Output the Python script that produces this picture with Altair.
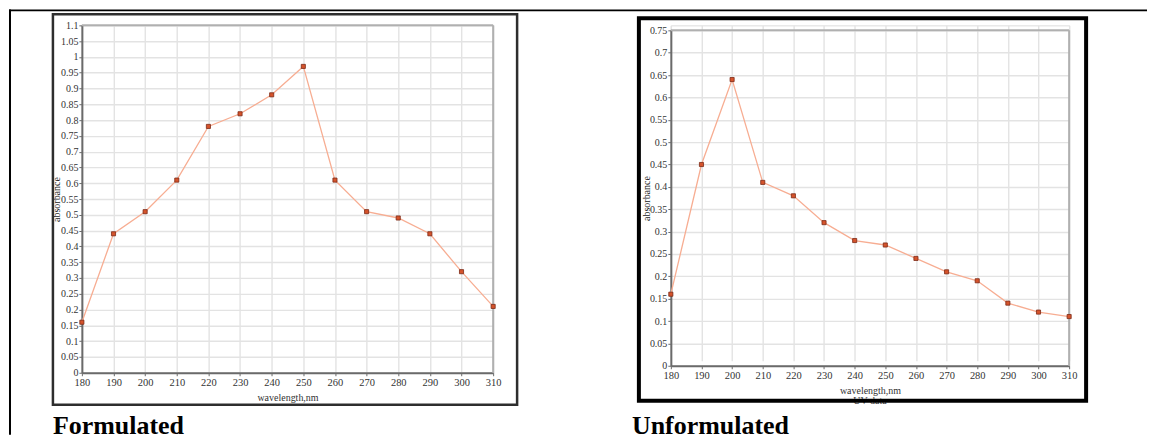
import altair as alt
import pandas as pd

# ---- data ----
wavelength = [180, 190, 200, 210, 220, 230, 240, 250, 260, 270, 280, 290, 300, 310]
formulated = [0.16, 0.44, 0.51, 0.61, 0.78, 0.82, 0.88, 0.97, 0.61, 0.51, 0.49, 0.44, 0.32, 0.21]
unformulated = [0.16, 0.45, 0.64, 0.41, 0.38, 0.32, 0.28, 0.27, 0.24, 0.21, 0.19, 0.14, 0.12, 0.11]

x_ticks = [180, 190, 200, 210, 220, 230, 240, 250, 260, 270, 280, 290, 300, 310]
y_ticks_left = [0, 0.05, 0.1, 0.15, 0.2, 0.25, 0.3, 0.35, 0.4, 0.45, 0.5, 0.55,
                0.6, 0.65, 0.7, 0.75, 0.8, 0.85, 0.9, 0.95, 1.0, 1.05, 1.1]
y_ticks_right = [0, 0.05, 0.1, 0.15, 0.2, 0.25, 0.3, 0.35, 0.4, 0.45, 0.5, 0.55,
                 0.6, 0.65, 0.7, 0.75]

captions = ["Formulated", "Unformulated"]
x_title = "wavelength,nm"
y_title = "absorbance"
sub_title = "UV data"

SERIF = "Liberation Serif"
LINE = "#f7ad92"
PT_FILL = "#d5532b"
PT_STROKE = "#7b2a17"
GRID = "#e3e3e3"
BORDER = "#b0b0b0"
AXIS = "#6a6a6a"
LABEL = "#333333"

one = pd.DataFrame({"k": [0]})


def panel(values, yticks, ymax, width, height, y_top, title_x):
    df = pd.DataFrame({"wavelength": wavelength, "absorbance": values})
    x = alt.X(
        "wavelength:Q",
        scale=alt.Scale(domain=[180, 310], nice=False, zero=False),
        axis=alt.Axis(
            values=x_ticks, format="d", title=x_title,
            titleY=25, titleBaseline="middle",
            titleFont=SERIF, titleFontSize=10, titleFontWeight="normal", titleColor=LABEL,
            labelFont=SERIF, labelFontSize=10.5, labelColor=LABEL, labelPadding=2,
            tickSize=3, tickColor=AXIS, domainColor=AXIS, domainWidth=2,
            grid=True, gridColor=GRID, gridWidth=1.4, labelFlush=False,
        ),
    )
    y = alt.Y(
        "absorbance:Q",
        scale=alt.Scale(domain=[0, ymax], nice=False, zero=True, range=[height, y_top]),
        axis=alt.Axis(
            values=yticks, format=".2~f", title=y_title,
            titleAngle=270, titleX=title_x, titleY=(height + y_top) / 2,
            titleAlign="center", titleBaseline="middle",
            titleFont=SERIF, titleFontSize=10, titleFontWeight="normal", titleColor="#222222",
            labelFont=SERIF, labelFontSize=10, labelColor=LABEL, labelPadding=1,
            tickSize=3, tickColor=AXIS, domainColor=AXIS, domainWidth=2,
            grid=True, gridColor=GRID, gridWidth=1.4, labelFlush=False,
        ),
    )
    base = alt.Chart(df).encode(x=x, y=y)
    line = base.mark_line(color=LINE, strokeWidth=1.3)
    pts = base.mark_point(shape="square", filled=True, size=17, fill=PT_FILL,
                          stroke=PT_STROKE, strokeWidth=0.8, opacity=1)
    top_border = alt.Chart(one).mark_rule(color=BORDER, strokeWidth=2).encode(
        x=alt.value(0), x2=alt.value(width), y=alt.value(y_top))
    right_border = alt.Chart(one).mark_rule(color=BORDER, strokeWidth=2).encode(
        x=alt.value(width), y=alt.value(y_top), y2=alt.value(height))
    return [top_border, right_border, line, pts]


# left panel
LW, LH = 412, 348
left_layers = panel(formulated, y_ticks_left, 1.1, LW, LH, 0, -25)
left_deco = [
    alt.Chart(one).mark_rect(color="black", strokeWidth=0).encode(
        x=alt.value(-73), x2=alt.value(1067), y=alt.value(-16), y2=alt.value(-14)),
    alt.Chart(one).mark_rect(color="black", strokeWidth=0).encode(
        x=alt.value(-73), x2=alt.value(-71), y=alt.value(-16), y2=alt.value(410)),
    alt.Chart(one).mark_rect(filled=False, stroke="#2e2e2e", strokeWidth=2.5).encode(
        x=alt.value(-29), x2=alt.value(436), y=alt.value(-11), y2=alt.value(380)),
    alt.Chart(one).mark_text(font=SERIF, fontSize=26, fontWeight="bold", color="black",
                             align="left", baseline="alphabetic").encode(
        x=alt.value(-29), y=alt.value(409), text=alt.value(captions[0])),
]
left = alt.layer(*left_deco, *left_layers).properties(width=LW, height=LH)

# right panel
RW, RH, RTOP = 399, 341, 5
right_layers = panel(unformulated, y_ticks_right, 0.75, RW, RH, RTOP, -24)
right_deco = [
    alt.Chart(one).mark_text(font=SERIF, fontSize=10, color="#444444",
                             align="center", baseline="middle").encode(
        x=alt.value(RW / 2), y=alt.value(376), text=alt.value(sub_title)),
    alt.Chart(one).mark_rect(filled=False, stroke="black", strokeWidth=4).encode(
        x=alt.value(-32), x2=alt.value(416), y=alt.value(-7), y2=alt.value(376)),
    alt.Chart(one).mark_text(font=SERIF, fontSize=26, fontWeight="bold", color="black",
                             align="left", baseline="alphabetic").encode(
        x=alt.value(-39), y=alt.value(409), text=alt.value(captions[1])),
]
right = alt.layer(*right_deco, *right_layers).properties(width=RW, height=RH)

chart = alt.hconcat(left, right, spacing=178, bounds="flush").resolve_scale(
    x="independent", y="independent"
).properties(padding=0).configure_view(strokeWidth=0).configure(background="white")

chart.save("out.html", embed_options={"renderer": "svg", "actions": False})
